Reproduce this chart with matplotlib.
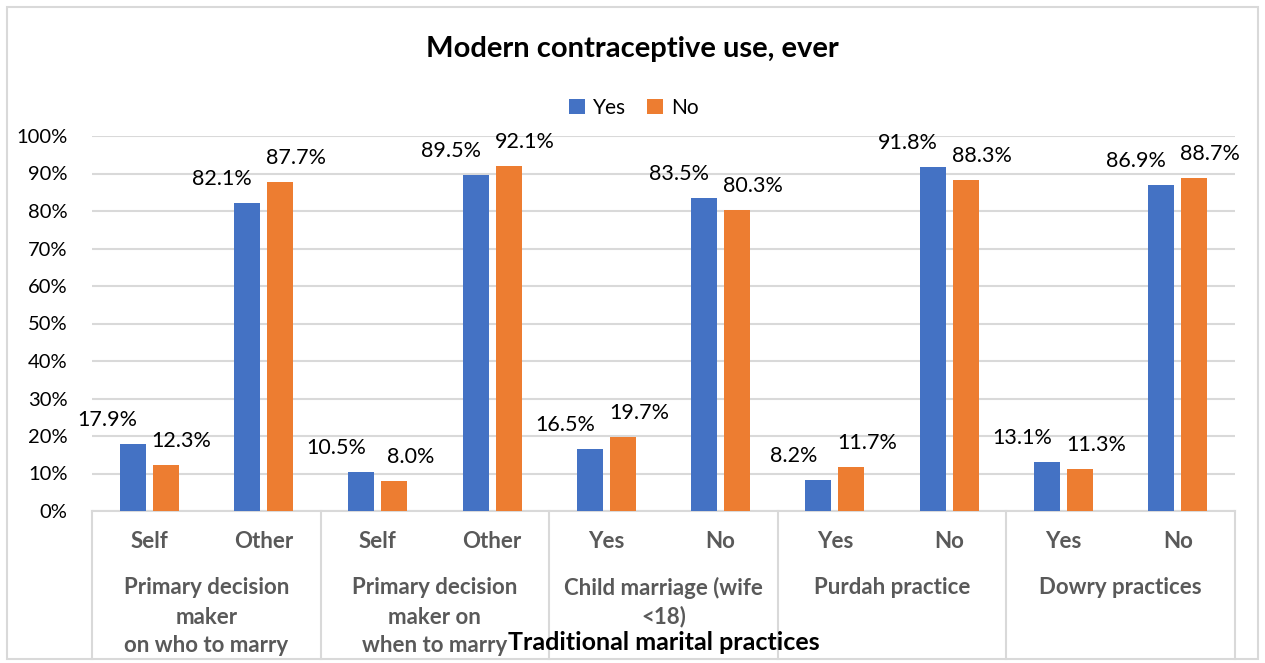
import matplotlib
matplotlib.use("Agg")
import matplotlib.pyplot as plt
import matplotlib.transforms as mtransforms
from matplotlib.patches import Rectangle, Patch
from matplotlib.lines import Line2D
import numpy as np

plt.rcParams['font.family'] = ['Lato', 'DejaVu Sans']

title = "Modern contraceptive use, ever"
xlabel = "Traditional marital practices"
series_names = ["Yes", "No"]
sub_labels = ["Self", "Other", "Self", "Other", "Yes", "No", "Yes", "No", "Yes", "No"]
group_labels = ["Primary decision\nmaker\non who to marry",
                "Primary decision\nmaker on\nwhen to marry",
                "Child marriage (wife\n<18)",
                "Purdah practice",
                "Dowry practices"]
yes_vals = [17.9, 82.1, 10.5, 89.5, 16.5, 83.5, 8.2, 91.8, 13.1, 86.9]
no_vals = [12.3, 87.7, 8.0, 92.1, 19.7, 80.3, 11.7, 88.3, 11.3, 88.7]
yticks = [0, 10, 20, 30, 40, 50, 60, 70, 80, 90, 100]

BLUE = "#4472C4"
ORANGE = "#ED7D31"
GRID = "#D9D9D9"
GRAYTXT = "#595959"

W, H = 1265, 663
fig = plt.figure(figsize=(W / 100, H / 100), dpi=100)

def fx(px):
    return px / W

def fy(py):
    return 1 - py / H

# outer border
fig.patches.append(Rectangle((fx(7), fy(659)), fx(1258) - fx(7), fy(7) - fy(659),
                             transform=fig.transFigure, fill=False,
                             edgecolor=GRID, linewidth=1.5, zorder=0))

L, R, T, B = 92, 1235, 136, 511
ax = fig.add_axes([fx(L), fy(B), fx(R) - fx(L), fy(T) - fy(B)])

n = len(sub_labels)
x = np.arange(n)
bw = 26 / 114.3
off = 16.5 / 114.3

ax.bar(x - off, yes_vals, bw, color=BLUE, zorder=3, label=series_names[0])
ax.bar(x + off, no_vals, bw, color=ORANGE, zorder=3, label=series_names[1])

for xi, v in zip(x, yes_vals):
    ax.annotate(f"{v:.1f}%", (xi - off, v), xytext=(-25, 18), textcoords='offset pixels',
                ha='center', va='baseline', fontsize=15.5, color='black')
for xi, v in zip(x, no_vals):
    ax.annotate(f"{v:.1f}%", (xi + off, v), xytext=(16, 18), textcoords='offset pixels',
                ha='center', va='baseline', fontsize=15.5, color='black')

ax.set_xlim(-0.5, n - 0.5)
ax.set_ylim(0, 100)
ax.set_yticks(yticks)
ax.set_yticklabels([f"{t}%" for t in yticks], fontsize=14.5)
ax.tick_params(axis='y', length=0, pad=17.5)
ax.tick_params(axis='x', length=0, labelbottom=False)
ax.yaxis.grid(True, color=GRID, linewidth=1.5, zorder=0)
for s in ['top', 'right', 'left']:
    ax.spines[s].set_visible(False)
ax.spines['bottom'].set_color(GRID)
ax.spines['bottom'].set_linewidth(1.5)

blend = mtransforms.blended_transform_factory(ax.transData, fig.transFigure)

# category labels (level 1)
for xi, lab in zip(x, sub_labels):
    ax.text(xi, fy(541), lab, transform=blend, ha='center', va='center',
            fontsize=16, fontweight='bold', color=GRAYTXT)

# group labels (level 2)
for g, lab in enumerate(group_labels):
    for i, line in enumerate(lab.split("\n")):
        ax.text(2 * g + 0.5, fy(588 + 29 * i), line, transform=blend, ha='center',
                va='center', fontsize=16, fontweight='bold', color=GRAYTXT)

# group dividers
for g in range(len(group_labels) + 1):
    xd = 2 * g - 0.5
    ax.add_line(Line2D([xd, xd], [fy(B), fy(659)], transform=blend, color=GRID,
                       linewidth=1.5, clip_on=False))

# axis title
fig.text(fx(664), fy(642), xlabel, ha='center', va='center', fontsize=18,
         fontweight='bold', color='black')

# chart title
fig.text(fx(632), fy(49), title, ha='center', va='center', fontsize=21,
         fontweight='bold', color='black')

# legend
handles = [Patch(facecolor=BLUE), Patch(facecolor=ORANGE)]
fig.legend(handles, series_names, loc='center', bbox_to_anchor=(fx(634), fy(108)),
           ncol=2, frameon=False, fontsize=15, handlelength=0.75, handleheight=0.75,
           handletextpad=0.4, columnspacing=1.0)

fig.savefig("out.png", dpi=100)
